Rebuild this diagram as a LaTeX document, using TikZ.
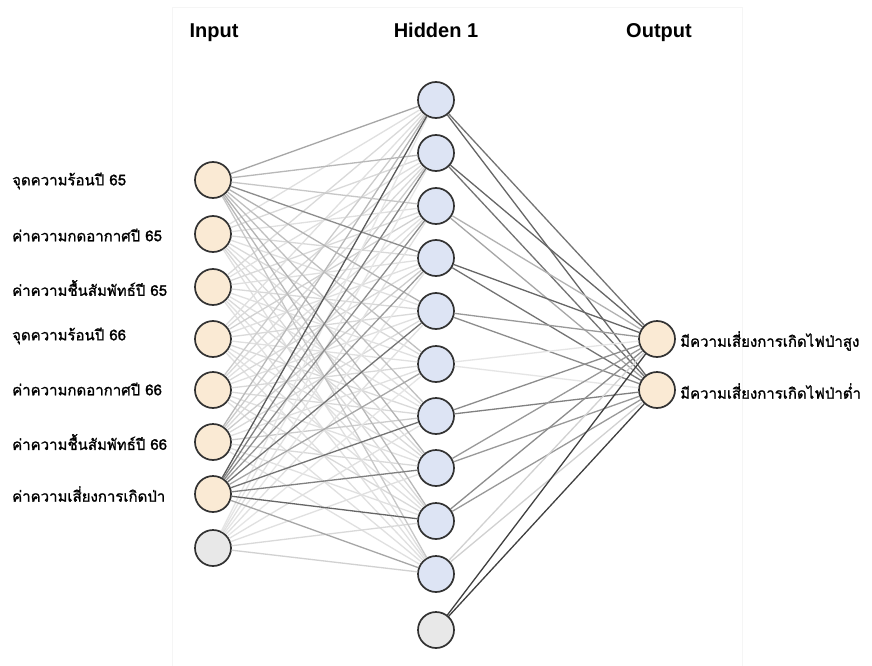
\documentclass[tikz,border=0pt]{standalone}
\usepackage{fontspec}
\setmainfont{Liberation Sans}
\newfontfamily\thaifont[Script=Thai,FakeBold=1.2]{Loma}
\definecolor{infill}{RGB}{250,234,212}
\definecolor{hidfill}{RGB}{221,228,244}
\definecolor{biasfill}{RGB}{232,232,232}
\definecolor{rim}{RGB}{50,50,50}
\tikzset{
  neuron/.style={circle, minimum size=36pt, inner sep=0pt, draw=rim, line width=1.7pt},
  innode/.style={neuron, fill=infill},
  hidnode/.style={neuron, fill=hidfill},
  biasnode/.style={neuron, fill=biasfill},
  edge/.style={draw=black!#1, line width=1.3pt},
  head/.style={font=\bfseries\fontsize{20}{22}\selectfont, anchor=base, inner sep=0pt},
  lbl/.style={font=\thaifont\fontsize{15}{17}\selectfont, anchor=west, inner sep=0pt}
}
\begin{document}
\begin{tikzpicture}[x=1pt,y=-1pt]
\useasboundingbox (0,0) rectangle (872,666);
\fill[white] (0,0) rectangle (872,666);
\draw[black!4, line width=0.8pt] (172,7) rectangle (742,670);

% layer titles
\node[head] (tin) at (214,38) {Input};
\node[head] (thid) at (436,38) {Hidden 1};
\node[head] (tout) at (659,38) {Output};

% input layer
\foreach \k/\yy in {1/180,2/234,3/287,4/339,5/390,6/442,7/494}
  \node[innode] (i\k) at (213,\yy) {};
\node[biasnode] (i8) at (213,548) {};

% hidden layer
\foreach \k/\yy in {1/100,2/153,3/206,4/258,5/311,6/364,7/416,8/468,9/521,10/574}
  \node[hidnode] (h\k) at (436,\yy) {};
\node[biasnode] (h11) at (436,630) {};

% output layer
\node[innode] (o1) at (657,339) {};
\node[innode] (o2) at (657,390) {};

% input labels
\node[lbl] (l1) at (12,181) {จุดความร้อนปี 65};
\node[lbl] (l2) at (12,235) {ค่าความกดอากาศปี 65};
\node[lbl] (l3) at (12,288) {ค่าความชื้นสัมพัทธ์ปี 65};
\node[lbl] (l4) at (12,336) {จุดความร้อนปี 66};
\node[lbl] (l5) at (12,389) {ค่าความกดอากาศปี 66};
\node[lbl] (l6) at (12,442) {ค่าความชื้นสัมพัทธ์ปี 66};
\node[lbl] (l7) at (12,494) {ค่าความเสี่ยงการเกิดป่า};

% output labels
\node[lbl] (r1) at (680,341) {มีความเสี่ยงการเกิดไฟป่าสูง};
\node[lbl] (r2) at (680,391) {มีความเสี่ยงการเกิดไฟป่าต่ำ};

% input -> hidden weights (darker = stronger)
\foreach \j/\w in {1/12,2/15,3/12,4/15,5/12,6/15,7/12,8/15,9/15,10/12}
  \draw[edge=\w] (i2) -- (h\j);
\foreach \j/\w in {1/15,2/12,3/15,4/12,5/15,6/12,7/12,8/15,9/12,10/12}
  \draw[edge=\w] (i3) -- (h\j);
\foreach \j/\w in {1/12,2/15,3/18,4/12,5/15,6/12,7/15,8/12,9/12,10/12}
  \draw[edge=\w] (i4) -- (h\j);
\foreach \j/\w in {1/20,2/15,3/12,4/15,5/12,6/15,7/15,8/12,9/15,10/12}
  \draw[edge=\w] (i5) -- (h\j);
\foreach \j/\w in {1/28,2/20,3/15,4/20,5/15,6/12,7/20,8/15,9/12,10/12}
  \draw[edge=\w] (i6) -- (h\j);
\foreach \j/\w in {1/10,2/10,3/12,4/10,5/12,6/10,7/12,8/12,9/15,10/18}
  \draw[edge=\w] (i8) -- (h\j);
\foreach \j/\w in {1/35,2/28,3/22,4/45,5/30,6/25,7/25,8/30,9/28,10/22}
  \draw[edge=\w] (i1) -- (h\j);
\foreach \j/\w in {1/65,2/50,3/45,4/40,5/55,6/35,7/55,8/50,9/60,10/35}
  \draw[edge=\w] (i7) -- (h\j);

% hidden -> output weights
\foreach \j/\wa/\wb in {1/55/60,2/60/55,3/30/35,4/60/55,5/40/45,6/10/10,7/45/50,8/40/40,9/45/40,10/18/18,11/75/75}{
  \draw[edge=\wa] (h\j) -- (o1);
  \draw[edge=\wb] (h\j) -- (o2);
}
\end{tikzpicture}
\end{document}
